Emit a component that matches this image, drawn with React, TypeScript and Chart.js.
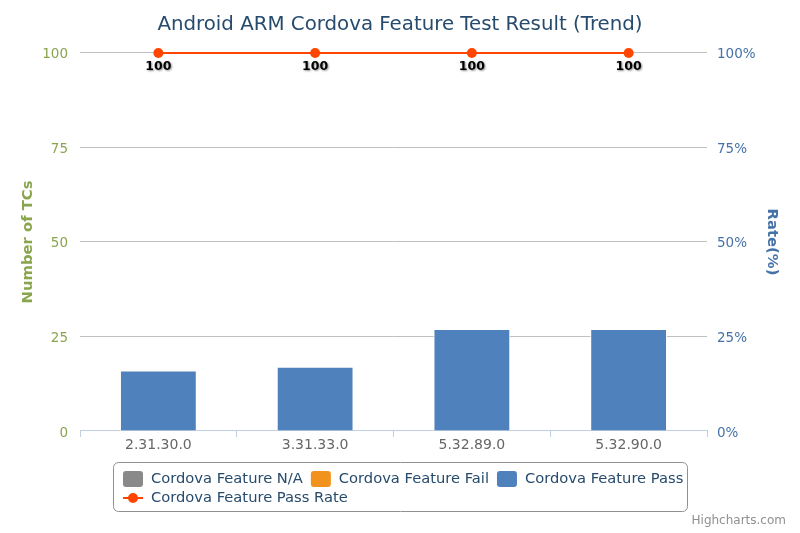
import React, { useEffect, useRef } from 'react';
import { Chart, registerables } from 'chart.js';

Chart.register(...registerables);

const FONT = '"DejaVu Sans", Verdana, sans-serif';

const titleText = 'Android ARM Cordova Feature Test Result (Trend)';
const categories = ['2.31.30.0', '3.31.33.0', '5.32.89.0', '5.32.90.0'];
const naValues = [0, 0, 0, 0];
const failValues = [0, 0, 0, 0];
const passValues = [16, 17, 27, 27];
const passRateValues = [100, 100, 100, 100];
const seriesNames = ['Cordova Feature N/A', 'Cordova Feature Fail', 'Cordova Feature Pass', 'Cordova Feature Pass Rate'];
const seriesColors = ['#898989', '#F0921B', '#4F81BD', '#FF4500'];
const leftAxisTitle = 'Number of TCs';
const rightAxisTitle = 'Rate(%)';
const creditText = 'Highcharts.com';

const extrasPlugin = {
  id: 'extras',
  afterDatasetsDraw(chart: any) {
    const ctx = chart.ctx;
    const meta = chart.getDatasetMeta(3);
    ctx.save();
    ctx.font = `bold 12.5px ${FONT}`;
    ctx.textAlign = 'center';
    ctx.textBaseline = 'middle';
    ctx.fillStyle = '#000';
    ctx.shadowColor = 'rgba(0,0,0,0.45)';
    ctx.shadowBlur = 2;
    ctx.shadowOffsetX = 1;
    ctx.shadowOffsetY = 1;
    meta.data.forEach((el: any, i: number) => {
      ctx.fillText(String(passRateValues[i]), el.x, el.y + 14);
    });
    ctx.restore();
  },
  afterDraw(chart: any) {
    const ctx = chart.ctx;
    ctx.save();
    const bx = 113.5, by = 462.5, bw = 574, bh = 49, r = 5;
    ctx.beginPath();
    ctx.moveTo(bx + r, by);
    ctx.lineTo(bx + bw - r, by);
    ctx.arcTo(bx + bw, by, bx + bw, by + r, r);
    ctx.lineTo(bx + bw, by + bh - r);
    ctx.arcTo(bx + bw, by + bh, bx + bw - r, by + bh, r);
    ctx.lineTo(bx + r, by + bh);
    ctx.arcTo(bx, by + bh, bx, by + bh - r, r);
    ctx.lineTo(bx, by + r);
    ctx.arcTo(bx, by, bx + r, by, r);
    ctx.closePath();
    ctx.strokeStyle = '#909090';
    ctx.lineWidth = 1;
    ctx.stroke();

    ctx.font = `14.7px ${FONT}`;
    ctx.textAlign = 'left';
    ctx.textBaseline = 'middle';
    let x = 123;
    const row1 = 479;
    for (let i = 0; i < 3; i++) {
      ctx.fillStyle = seriesColors[i];
      ctx.beginPath();
      const sx = x, sy = row1 - 8, sw = 20, sh = 16, sr = 3;
      ctx.moveTo(sx + sr, sy);
      ctx.arcTo(sx + sw, sy, sx + sw, sy + sh, sr);
      ctx.arcTo(sx + sw, sy + sh, sx, sy + sh, sr);
      ctx.arcTo(sx, sy + sh, sx, sy, sr);
      ctx.arcTo(sx, sy, sx + sw, sy, sr);
      ctx.closePath();
      ctx.fill();
      ctx.fillStyle = '#274b6d';
      ctx.fillText(seriesNames[i], x + 28, row1);
      x = x + 28 + ctx.measureText(seriesNames[i]).width + 8;
    }
    const row2 = 498;
    ctx.strokeStyle = seriesColors[3];
    ctx.lineWidth = 2;
    ctx.beginPath();
    ctx.moveTo(123, row2);
    ctx.lineTo(143, row2);
    ctx.stroke();
    ctx.fillStyle = seriesColors[3];
    ctx.beginPath();
    ctx.arc(133, row2, 5, 0, Math.PI * 2);
    ctx.fill();
    ctx.fillStyle = '#274b6d';
    ctx.fillText(seriesNames[3], 151, row2);

    ctx.font = `12px ${FONT}`;
    ctx.fillStyle = '#909090';
    ctx.textAlign = 'right';
    ctx.fillText(creditText, 786, 521);
    ctx.restore();
  },
};

export default function App() {
  const ref = useRef<HTMLCanvasElement | null>(null);
  useEffect(() => {
    if (!ref.current) return;
    const barCommon = {
      type: 'bar' as const,
      yAxisID: 'y',
      stack: 'tc',
      borderColor: '#ffffff',
      borderWidth: 1,
      categoryPercentage: 1,
      barPercentage: 0.49,
      order: 1,
    };
    const chart = new Chart(ref.current, {
      type: 'bar',
      data: {
        labels: categories,
        datasets: [
          { ...barCommon, label: seriesNames[0], data: naValues, backgroundColor: seriesColors[0] },
          { ...barCommon, label: seriesNames[1], data: failValues, backgroundColor: seriesColors[1] },
          { ...barCommon, label: seriesNames[2], data: passValues, backgroundColor: seriesColors[2] },
          {
            type: 'line' as const,
            label: seriesNames[3],
            data: passRateValues,
            yAxisID: 'y1',
            borderColor: seriesColors[3],
            backgroundColor: seriesColors[3],
            borderWidth: 2,
            pointRadius: 5,
            pointBorderWidth: 0,
            pointBackgroundColor: seriesColors[3],
            clip: false,
            order: 0,
          } as any,
        ],
      },
      options: {
        responsive: false,
        animation: false,
        devicePixelRatio: 1,
        layout: { padding: 0 },
        plugins: {
          legend: { display: false },
          tooltip: { enabled: false },
          title: {
            display: true,
            text: titleText,
            color: '#274b6d',
            font: { family: FONT, size: 19.8, weight: 'normal' as any, lineHeight: 1.2 },
            padding: { top: 13, bottom: 16.2 },
          },
        },
        scales: {
          x: {
            stacked: true,
            grid: { offset: true, drawOnChartArea: false, drawTicks: true, tickLength: 6, color: '#C0D0E0' },
            border: { color: '#C0D0E0', width: 1 },
            ticks: { color: '#666666', font: { family: FONT, size: 14 }, padding: 0, maxRotation: 0 },
            afterFit: (s: any) => { s.height = 102; },
          },
          y: {
            position: 'left',
            stacked: true,
            min: 0,
            max: 100,
            grid: { color: '#C0C0C0', drawTicks: false },
            border: { display: false },
            ticks: { stepSize: 25, color: '#89A54E', font: { family: FONT, size: 13.5 }, padding: 12, labelOffset: 2 },
            title: {
              display: true,
              text: leftAxisTitle,
              color: '#89A54E',
              font: { family: FONT, size: 14.8, weight: 'bold' as any },
              padding: { top: 19.2, bottom: 0 },
            },
            afterFit: (s: any) => { s.width = 80; },
          },
          y1: {
            position: 'right',
            min: 0,
            max: 100,
            grid: { drawOnChartArea: false, drawTicks: false },
            border: { display: false },
            ticks: {
              stepSize: 25,
              color: '#4572A7',
              font: { family: FONT, size: 13.5 },
              padding: 10,
              labelOffset: 2,
              callback: (v: any) => `${v}%`,
            },
            title: {
              display: true,
              text: rightAxisTitle,
              color: '#4572A7',
              font: { family: FONT, size: 14.8, weight: 'bold' as any },
              padding: { top: 19.2, bottom: 0 },
            },
            afterFit: (s: any) => { s.width = 93; },
          },
        },
      },
      plugins: [extrasPlugin],
    });
    return () => chart.destroy();
  }, []);
  return (
    <div style={{ position: 'absolute', left: 0, top: 0, width: 800, height: 533, background: '#fff' }}>
      <canvas ref={ref} width={800} height={533} />
    </div>
  );
}
